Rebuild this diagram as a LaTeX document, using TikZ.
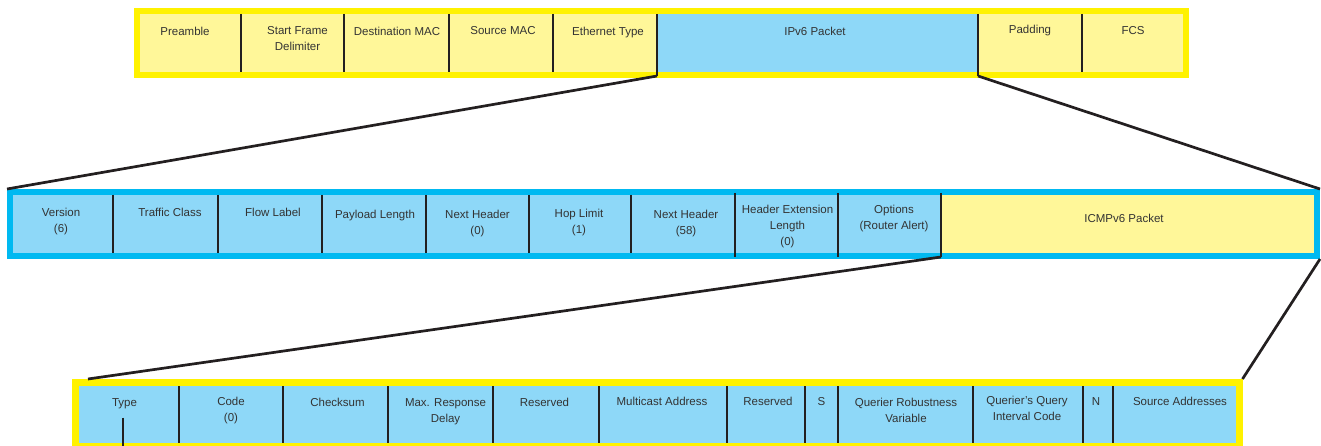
\documentclass[tikz,border=0pt]{standalone}
\usepackage{fontspec}
\setmainfont{Liberation Sans}
\definecolor{yborder}{HTML}{FFF200}
\definecolor{yfill}{HTML}{FFF799}
\definecolor{bfill}{HTML}{8ED8F8}
\definecolor{bborder}{HTML}{00B9F1}
\definecolor{divcol}{HTML}{231F20}
\definecolor{txtcol}{HTML}{333333}
\begin{document}
\begin{tikzpicture}[x=1pt,y=-1pt,
  cell/.style={draw=none, inner sep=0pt, outer sep=0pt, anchor=north west},
  ycell/.style={cell, fill=yfill},
  bcell/.style={cell, fill=bfill},
  frm/.style={draw=#1, line width=6pt, inner sep=0pt, fill=none},
  divline/.style={draw=divcol, line width=2.8pt},
  conn/.style={draw=divcol, line width=2.7pt},
  lbl/.style={anchor=north, inner sep=0pt, align=center, text=txtcol,
              font=\fontsize{11.5}{16}\selectfont}]
\useasboundingbox (0,0) rectangle (1321,446);

% ---------- Ethernet frame (top row) ----------
\begin{scope}[every node/.append style={minimum height=58pt}]
\node[ycell, minimum width=101pt] (pre)  at (140,14) {};
\node[ycell, minimum width=103pt] (sfd)  at (241,14) {};
\node[ycell, minimum width=105pt] (dmac) at (344,14) {};
\node[ycell, minimum width=104pt] (smac) at (449,14) {};
\node[ycell, minimum width=104pt] (ety)  at (553,14) {};
\node[bcell, minimum width=321pt] (ipv6) at (657,14) {};
\node[ycell, minimum width=104pt] (pad)  at (978,14) {};
\node[ycell, minimum width=101pt] (fcs)  at (1082,14) {};
\end{scope}
\node[frm=yborder, minimum width=1049pt, minimum height=64pt] (eth) at (661.5,43) {};
\foreach \c in {pre,sfd,dmac,smac,pad}
  \draw[divline] (\c.north east) -- (\c.south east);
\coordinate (c1s) at ([yshift=-4pt]ipv6.south west);
\coordinate (c2s) at ([yshift=-4pt]ipv6.south east);
\draw[divline] (ipv6.north west) -- (c1s);
\draw[divline] (ipv6.north east) -- (c2s);

% ---------- IPv6 packet (middle row) ----------
\begin{scope}[every node/.append style={minimum height=58pt}]
\node[bcell, minimum width=100pt] (ver)  at (13,195) {};
\node[bcell, minimum width=105pt] (tc)   at (113,195) {};
\node[bcell, minimum width=104pt] (fl)   at (218,195) {};
\node[bcell, minimum width=104pt] (pl)   at (322,195) {};
\node[bcell, minimum width=103pt] (nh0)  at (426,195) {};
\node[bcell, minimum width=102pt] (hl)   at (529,195) {};
\node[bcell, minimum width=104pt] (nh58) at (631,195) {};
\node[bcell, minimum width=103pt] (hel)  at (735,195) {};
\node[bcell, minimum width=103pt] (opt)  at (838,195) {};
\node[ycell, minimum width=373pt] (icmp) at (941,195) {};
\end{scope}
\node[frm=bborder, minimum width=1307pt, minimum height=64pt] (ipf) at (663.5,224) {};
\foreach \c in {ver,tc,fl,pl,nh0,hl}
  \draw[divline] (\c.north east) -- (\c.south east);
\draw[divline] ([yshift=2pt]nh58.north east) -- ([yshift=-4pt]nh58.south east);
\draw[divline] ([yshift=2pt]hel.north east) -- ([yshift=-4pt]hel.south east);
\coordinate (c3s) at ([yshift=-4pt]opt.south east);
\draw[divline] ([yshift=2pt]opt.north east) -- (c3s);

% ---------- ICMPv6 / MLD message (bottom row) ----------
\begin{scope}[every node/.append style={minimum height=57pt}]
\node[bcell, minimum width=100pt] (type) at (79,386) {};
\node[bcell, minimum width=104pt] (code) at (179,386) {};
\node[bcell, minimum width=105pt] (cks)  at (283,386) {};
\node[bcell, minimum width=105pt] (mrd)  at (388,386) {};
\node[bcell, minimum width=106pt] (res1) at (493,386) {};
\node[bcell, minimum width=128pt] (mca)  at (599,386) {};
\node[bcell, minimum width=78pt]  (res2) at (727,386) {};
\node[bcell, minimum width=33pt]  (sfl)  at (805,386) {};
\node[bcell, minimum width=135pt] (qrv)  at (838,386) {};
\node[bcell, minimum width=110pt] (qqic) at (973,386) {};
\node[bcell, minimum width=30pt]  (nfl)  at (1083,386) {};
\node[bcell, minimum width=123pt] (src)  at (1113,386) {};
\end{scope}
\node[frm=yborder, line width=6.5pt, minimum width=1164pt, minimum height=64pt] (botf) at (657.25,414.25) {};
\foreach \c in {type,code,cks,mrd,res1,mca,res2,sfl,qrv,qqic,nfl}
  \draw[divline] (\c.north east) -- (\c.south east);

% ---------- connectors ----------
\coordinate (c3e) at ([xshift=16pt]botf.north west);
\draw[conn] (c1s) -- (ipf.north west);
\draw[conn] (c2s) -- (ipf.north east);
\draw[conn] (c3s) -- (c3e);
\draw[conn] (ipf.south east) -- (botf.north east);

% ---------- labels ----------
\node[lbl] (tpre)  at (185,26.5)  {Preamble};
\node[lbl] (tsfd)  at (297.5,26.5) {Start Frame\\Delimiter};
\node[lbl] (tdmac) at (397,26.5)  {Destination MAC};
\node[lbl] (tsmac) at (503,26)    {Source MAC};
\node[lbl] (tety)  at (608,26.5)  {Ethernet Type};
\node[lbl] (tipv6) at (815,27)    {IPv6 Packet};
\node[lbl] (tpad)  at (1030,25)   {Padding};
\node[lbl] (tfcs)  at (1133,26)   {FCS};

\node[lbl] (tver)  at (61,208)    {Version\\(6)};
\node[lbl] (ttc)   at (170,208)   {Traffic Class};
\node[lbl] (tfl)   at (273,207.5) {Flow Label};
\node[lbl] (tpl)   at (375,210)   {Payload Length};
\node[lbl] (tnh0)  at (477.5,210) {Next Header\\(0)};
\node[lbl] (thl)   at (579,209)   {Hop Limit\\(1)};
\node[lbl] (tnh58) at (686,209.5) {Next Header\\(58)};
\node[lbl] (thel)  at (787.5,205) {Header Extension\\Length\\(0)};
\node[lbl] (topt)  at (894,205)   {Options\\(Router Alert)};
\node[lbl] (ticmp) at (1124,214)  {ICMPv6 Packet};

\node[lbl] (ttype) at (124.5,398) {Type};
\node[lbl] (tcode) at (231,397)   {Code\\(0)};
\node[lbl] (tcks)  at (337.5,398) {Checksum};
\node[lbl] (tmrd)  at (445.5,398) {Max. Response\\Delay};
\node[lbl] (tres1) at (544.5,398) {Reserved};
\node[lbl] (tmca)  at (662,397)   {Multicast Address};
\node[lbl] (tres2) at (768,397)   {Reserved};
\node[lbl] (ts)    at (821.5,397) {S};
\node[lbl] (tqrv)  at (906,398)   {Querier Robustness\\Variable};
\node[lbl] (tqqic) at (1027,396)  {Querier's Query\\Interval Code};
\node[lbl] (tn)    at (1096,397)  {N};
\node[lbl] (tsrc)  at (1180,397)  {Source Addresses};

\coordinate (tick) at ([xshift=-1.5pt,yshift=-9pt]ttype.south);
\draw[draw=divcol, line width=1.3pt] (tick) -- ++(0,30);
\end{tikzpicture}
\end{document}
